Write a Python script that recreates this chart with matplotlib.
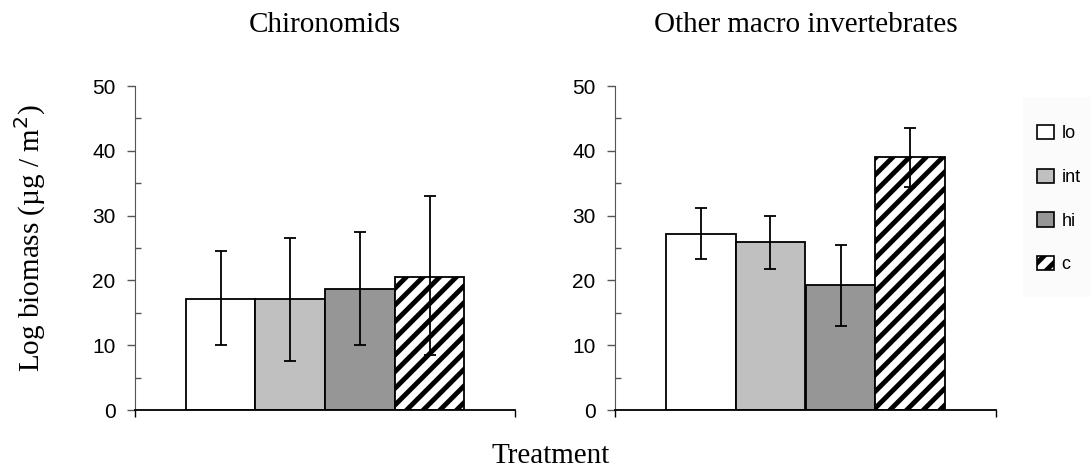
import matplotlib.pyplot as plt
import numpy as np
from matplotlib.patches import Patch, Rectangle
from matplotlib.ticker import MultipleLocator

panels = ['Chironomids', 'Other macro invertebrates']
treatments = ['lo', 'int', 'hi', 'c']

# bar heights and error bar ends
chiro_mean = [17.2, 17.2, 18.7, 20.6]
chiro_low = [10.0, 7.5, 10.0, 8.5]
chiro_high = [24.6, 26.5, 27.5, 33.0]

other_mean = [27.2, 26.0, 19.3, 39.1]
other_low = [23.3, 21.8, 13.0, 34.4]
other_high = [31.2, 29.9, 25.5, 43.5]

colors = ['white', '#c0c0c0', '#969696', 'white']
hatches = [None, None, None, '//']

plt.rcParams['hatch.linewidth'] = 3.5
sans = ['Liberation Sans', 'DejaVu Sans']
narrow = ['Liberation Sans Narrow', 'Liberation Sans', 'DejaVu Sans']
serif = ['Liberation Serif', 'DejaVu Serif']

W, H = 1091, 468
fig = plt.figure(figsize=(W / 100, H / 100), dpi=100)
ax1 = fig.add_axes([135 / W, 1 - 410 / H, 380 / W, 324 / H])
ax2 = fig.add_axes([615 / W, 1 - 410 / H, 381 / W, 324 / H])

x = np.array([-0.275, -0.092, 0.092, 0.275])
width = 0.183

for ax, title, mean, low, high in [(ax1, panels[0], chiro_mean, chiro_low, chiro_high),
                                   (ax2, panels[1], other_mean, other_low, other_high)]:
    mean = np.array(mean)
    yerr = [mean - np.array(low), np.array(high) - mean]
    for i in range(4):
        ax.bar(x[i], mean[i], width, color=colors[i], edgecolor='black',
               linewidth=1.3, hatch=hatches[i], zorder=2)
    ax.errorbar(x, mean, yerr=yerr, fmt='none', ecolor='black',
                elinewidth=1.3, capsize=4.5, capthick=1.3, zorder=3)

    ax.set_xlim(-0.5, 0.5)
    ax.set_ylim(0, 50)
    ax.yaxis.set_major_locator(MultipleLocator(10))
    ax.yaxis.set_minor_locator(MultipleLocator(5))
    ax.set_xticks([-0.5, 0.5])
    ax.set_xticklabels([])
    ax.tick_params(axis='x', direction='out', length=5, width=1)
    ax.tick_params(axis='y', which='major', direction='out', length=6,
                   width=1, color='#555555', labelsize=15, pad=8)
    ax.tick_params(axis='y', which='minor', direction='in', length=4,
                   width=1, color='#555555')
    for lab in ax.get_yticklabels():
        lab.set_family(sans)
    ax.spines['top'].set_visible(False)
    ax.spines['right'].set_visible(False)
    ax.spines['left'].set_color('#555555')
    ax.spines['bottom'].set_linewidth(1.3)

    # panel title centred over its axes
    pos = ax.get_position()
    fig.text((pos.x0 + pos.x1) / 2, 1 - 32 / H, title, family=serif,
             fontsize=21, ha='center', va='baseline')

fig.text(30 / W, 1 - 238 / H, 'Log biomass (µg / m$^2$)', family=serif,
         fontsize=21, rotation=90, ha='center', va='center')
fig.text(551 / W, 1 - 463 / H, 'Treatment', family=serif, fontsize=21,
         ha='center', va='baseline')

# very faint grey panel behind the legend
fig.patches.append(Rectangle((1023 / W, 1 - 297 / H), 68 / W, 200 / H,
                             transform=fig.transFigure, facecolor='#fbfbfb',
                             edgecolor='none', zorder=0))

handles = [Patch(facecolor=colors[i], edgecolor='black', hatch=hatches[i],
                 linewidth=1.2) for i in range(4)]
fig.legend(handles, treatments, loc='upper left',
           bbox_to_anchor=(1037 / W, 1 - 125 / H),
           frameon=False, prop={'family': narrow, 'size': 13},
           handlelength=0.95, handleheight=0.85, handletextpad=0.4,
           labelspacing=1.45, borderaxespad=0, borderpad=0)

fig.savefig('out.png', dpi=100)
